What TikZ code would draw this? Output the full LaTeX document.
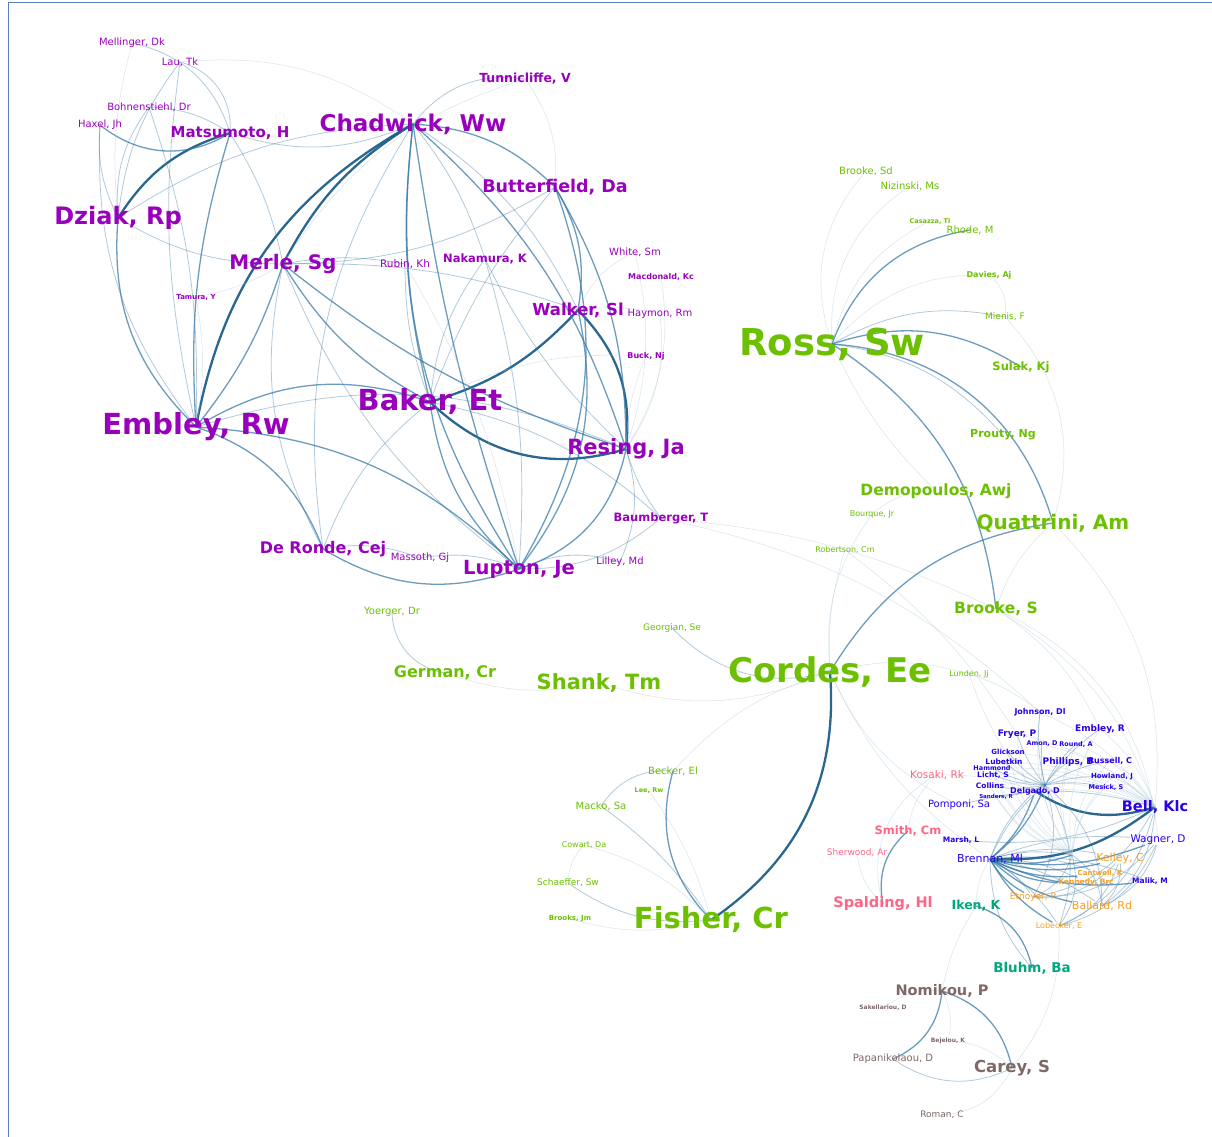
\documentclass[tikz,border=0pt]{standalone}
\usepackage{fontspec}
\setmainfont{DejaVu Sans}
\usetikzlibrary{backgrounds}

\definecolor{cPurp}{HTML}{9900BB}
\definecolor{cGrn}{HTML}{6CC000}
\definecolor{cPnk}{HTML}{FF6685}
\definecolor{cBlu}{HTML}{2A00E6}
\definecolor{cOrg}{HTML}{F5A020}
\definecolor{cTeal}{HTML}{00A87E}
\definecolor{cGry}{HTML}{806868}
\definecolor{cEdge}{HTML}{3A7CA8}
\definecolor{cEdgeDk}{HTML}{1F5F8A}
\definecolor{cFrame}{HTML}{5A80C0}

\tikzset{
  lab/.style={inner sep=0pt, text=#1},
  rg/.style={font=\fontsize{#1}{#1}\selectfont},
  bd/.style={font=\bfseries\fontsize{#1}{#1}\selectfont},
  ef/.style={draw=cEdge!40, line width=0.5pt, opacity=0.5},
  el/.style={draw=cEdge, line width=0.8pt, opacity=0.4},
  em/.style={draw=cEdge, line width=1.3pt, opacity=0.75},
  eh/.style={draw=cEdgeDk, line width=2.3pt, opacity=0.95}
}

\begin{document}
\begin{tikzpicture}[x=1pt,y=-1pt]
    \useasboundingbox (0,0) rectangle (1212,1137);

    % purple group
    \node[lab=cPurp, rg=10] (mellinger) at (132,43) {Mellinger, Dk};
    \node[lab=cPurp, rg=10] (lau) at (180,62) {Lau, Tk};
    \node[lab=cPurp, bd=12.5] (tunnicliffe) at (525,79) {Tunnicliffe, V};
    \node[lab=cPurp, rg=10] (bohnen) at (149,107) {Bohnenstiehl, Dr};
    \node[lab=cPurp, rg=10] (haxel) at (100,125) {Haxel, Jh};
    \node[lab=cPurp, bd=15] (matsumoto) at (230,133) {Matsumoto, H};
    \node[lab=cPurp, bd=23] (chadwick) at (413,124) {Chadwick, Ww};
    \node[lab=cPurp, bd=17.5] (butterfield) at (555,187) {Butterfield, Da};
    \node[lab=cPurp, bd=24] (dziak) at (118,218) {Dziak, Rp};
    \node[lab=cPurp, bd=20] (merle) at (283,264) {Merle, Sg};
    \node[lab=cPurp, rg=10.5] (rubin) at (405,264) {Rubin, Kh};
    \node[lab=cPurp, bd=11.5] (nakamura) at (485,259) {Nakamura, K};
    \node[lab=cPurp, rg=10] (white) at (635,252) {White, Sm};
    \node[lab=cPurp, bd=8] (macdonald) at (661,277) {Macdonald, Kc};
    \node[lab=cPurp, bd=7] (tamura) at (196,297) {Tamura, Y};
    \node[lab=cPurp, bd=16.5] (walker) at (578,310) {Walker, Sl};
    \node[lab=cPurp, rg=10] (haymon) at (660,314) {Haymon, Rm};
    \node[lab=cPurp, bd=8] (buck) at (646,356) {Buck, Nj};
    \node[lab=cPurp, bd=29] (baker) at (430,402) {Baker, Et};
    \node[lab=cPurp, bd=29] (embley) at (196,427) {Embley, Rw};
    \node[lab=cPurp, bd=21] (resing) at (626,449) {Resing, Ja};
    \node[lab=cPurp, bd=11.5] (baumberger) at (661,518) {Baumberger, T};
    \node[lab=cPurp, bd=16] (deronde) at (323,549) {De Ronde, Cej};
    \node[lab=cPurp, rg=10] (massoth) at (420,558) {Massoth, Gj};
    \node[lab=cPurp, bd=19.5] (lupton) at (519,569) {Lupton, Je};
    \node[lab=cPurp, rg=10] (lilley) at (620,562) {Lilley, Md};

    % green group
    \node[lab=cGrn, rg=10] (brookesd) at (866,171) {Brooke, Sd};
    \node[lab=cGrn, rg=10] (nizinski) at (910,186) {Nizinski, Ms};
    \node[lab=cGrn, bd=6.5] (casazza) at (930,221) {Casazza, Tl};
    \node[lab=cGrn, rg=10] (rhode) at (970,230) {Rhode, M};
    \node[lab=cGrn, bd=8] (davies) at (989,275) {Davies, Aj};
    \node[lab=cGrn, rg=9] (mienis) at (1005,317) {Mienis, F};
    \node[lab=cGrn, bd=37] (ross) at (832,344) {Ross, Sw};
    \node[lab=cGrn, bd=11.5] (sulak) at (1021,367) {Sulak, Kj};
    \node[lab=cGrn, bd=11] (prouty) at (1003,435) {Prouty, Ng};
    \node[lab=cGrn, bd=15.5] (demopoulos) at (936,491) {Demopoulos, Awj};
    \node[lab=cGrn, rg=8] (bourque) at (872,514) {Bourque, Jr};
    \node[lab=cGrn, bd=20] (quattrini) at (1053,523) {Quattrini, Am};
    \node[lab=cGrn, rg=8] (robertson) at (845,550) {Robertson, Cm};
    \node[lab=cGrn, rg=10] (yoerger) at (392,612) {Yoerger, Dr};
    \node[lab=cGrn, bd=15.5] (brookes) at (996,609) {Brooke, S};
    \node[lab=cGrn, rg=9] (georgian) at (672,628) {Georgian, Se};
    \node[lab=cGrn, bd=16] (german) at (445,673) {German, Cr};
    \node[lab=cGrn, bd=21] (shank) at (599,683) {Shank, Tm};
    \node[lab=cGrn, bd=34] (cordes) at (830,672) {Cordes, Ee};
    \node[lab=cGrn, rg=8] (lunden) at (969,674) {Lunden, Jj};
    \node[lab=cGrn, rg=10] (becker) at (673,771) {Becker, El};
    \node[lab=cGrn, bd=6.5] (lee) at (649,791) {Lee, Rw};
    \node[lab=cGrn, rg=10] (macko) at (601,806) {Macko, Sa};
    \node[lab=cGrn, rg=8] (cowart) at (584,845) {Cowart, Da};
    \node[lab=cGrn, rg=9] (schaeffer) at (568,883) {Schaeffer, Sw};
    \node[lab=cGrn, bd=7] (brooks) at (570,919) {Brooks, Jm};
    \node[lab=cGrn, bd=29] (fisher) at (711,920) {Fisher, Cr};

    % pink, teal, grey groups
    \node[lab=cPnk, rg=10.5] (kosaki) at (937,775) {Kosaki, Rk};
    \node[lab=cPnk, bd=11.5] (smith) at (908,831) {Smith, Cm};
    \node[lab=cPnk, rg=9] (sherwood) at (857,853) {Sherwood, Ar};
    \node[lab=cPnk, bd=14.5] (spalding) at (883,904) {Spalding, Hl};
    \node[lab=cTeal, bd=12.5] (iken) at (976,906) {Iken, K};
    \node[lab=cTeal, bd=13.5] (bluhm) at (1032,968) {Bluhm, Ba};
    \node[lab=cGry, bd=14.5] (nomikou) at (942,991) {Nomikou, P};
    \node[lab=cGry, bd=6] (sakell) at (883,1008) {Sakellariou, D};
    \node[lab=cGry, bd=6] (bejelou) at (948,1041) {Bejelou, K};
    \node[lab=cGry, rg=10] (papanik) at (893,1059) {Papanikolaou, D};
    \node[lab=cGry, bd=16.5] (carey) at (1012,1068) {Carey, S};
    \node[lab=cGry, rg=9] (roman) at (942,1115) {Roman, C};

    % blue and orange cluster
    \coordinate (core) at (1045,785);
    \coordinate (ocore) at (1072,855);
    \node[lab=cBlu, rg=10] (pomponi) at (959,805) {Pomponi, Sa};
    \node[lab=cBlu, bd=7.5] (marsh) at (961,840) {Marsh, L};
    \node[lab=cBlu, rg=11] (brennan) at (990,859) {Brennan, Ml};
    \node[lab=cBlu, bd=14.5] (bell) at (1155,807) {Bell, Klc};
    \node[lab=cBlu, rg=10.5] (wagner) at (1158,840) {Wagner, D};
    \node[lab=cBlu, bd=7.5] (malik) at (1150,881) {Malik, M};
    \node[lab=cBlu, bd=8] (johnson) at (1040,712) {Johnson, Dl};
    \node[lab=cBlu, bd=9] (embleyr) at (1100,729) {Embley, R};
    \node[lab=cBlu, bd=9] (fryer) at (1017,734) {Fryer, P};
    \node[lab=cBlu, bd=6.5] (amon) at (1042,744) {Amon, D};
    \node[lab=cBlu, bd=6.5] (round) at (1076,744) {Round, A};
    \node[lab=cBlu, bd=7] (glickson) at (1008,752) {Glickson};
    \node[lab=cBlu, bd=9] (phillips) at (1068,762) {Phillips, B};
    \node[lab=cBlu, bd=8] (russell) at (1110,761) {Russell, C};
    \node[lab=cBlu, bd=7.5] (lubetkin) at (1004,762) {Lubetkin};
    \node[lab=cBlu, bd=6.5] (hammond) at (992,768) {Hammond};
    \node[lab=cBlu, bd=7.5] (licht) at (993,775) {Licht, S};
    \node[lab=cBlu, bd=7] (howland) at (1112,777) {Howland, J};
    \node[lab=cBlu, bd=7.5] (collins) at (990,786) {Collins};
    \node[lab=cBlu, bd=6.5] (mesick) at (1106,787) {Mesick, S};
    \node[lab=cBlu, bd=8] (delgado) at (1035,791) {Delgado, D};
    \node[lab=cBlu, bd=5.5] (sanders) at (996,797) {Sanders, R};
    \node[lab=cOrg, rg=11] (kelley) at (1120,858) {Kelley, C};
    \node[lab=cOrg, bd=7] (cantwell) at (1100,873) {Cantwell, K};
    \node[lab=cOrg, bd=7.5] (kennedy) at (1086,882) {Kennedy, Brc};
    \node[lab=cOrg, rg=9] (etnoyer) at (1033,897) {Etnoyer, P};
    \node[lab=cOrg, rg=11] (ballard) at (1102,906) {Ballard, Rd};
    \node[lab=cOrg, rg=8] (lobecker) at (1059,926) {Lobecker, E};

    \begin{scope}[on background layer]
    \fill[white] (0,0) rectangle (1212,1137);
    \draw[cFrame, line width=1pt] (8,1137) -- (8,3) -- (1212,3);
    % connectors, bend > 0 right, < 0 left
    \foreach \a/\b/\s/\c in {
        embley/chadwick/eh/-25, merle/chadwick/eh/-15, merle/embley/em/-10,
        baker/resing/eh/30, baker/walker/eh/15, walker/resing/eh/-25,
        embley/baker/em/-25, embley/resing/el/-20, embley/lupton/em/-20,
        embley/deronde/em/-25, embley/dziak/em/-25, dziak/matsumoto/eh/-20,
        dziak/chadwick/el/-15, dziak/merle/el/15, haxel/matsumoto/em/35,
        haxel/embley/el/20, haxel/dziak/el/15, lau/matsumoto/el/-40,
        lau/embley/el/10, lau/dziak/el/15, lau/chadwick/ef/-20,
        mellinger/dziak/ef/10, mellinger/matsumoto/el/-30,
        bohnen/embley/el/-10, bohnen/dziak/el/20, bohnen/matsumoto/el/-15,
        matsumoto/embley/em/10, matsumoto/chadwick/el/20, matsumoto/merle/el/-10,
        tunnicliffe/chadwick/el/30, tunnicliffe/butterfield/ef/-20, tunnicliffe/merle/ef/20,
        chadwick/lupton/em/20, chadwick/lupton/em/5, chadwick/resing/em/-15,
        chadwick/baker/em/10, chadwick/butterfield/em/-20, chadwick/walker/el/-15,
        chadwick/deronde/el/20, chadwick/nakamura/el/-10,
        butterfield/resing/em/-15, butterfield/lupton/em/-25, butterfield/baker/el/10,
        butterfield/walker/em/-20, butterfield/merle/el/-15,
        merle/resing/em/10, merle/baker/em/15, merle/lupton/el/15, merle/walker/el/-10,
        merle/deronde/el/20, merle/rubin/el/-10,
        baker/lupton/em/20, baker/deronde/el/15, resing/lupton/em/-30,
        resing/baumberger/el/10, resing/lilley/el/-20, lupton/lilley/el/-20,
        lupton/massoth/el/15, deronde/lupton/em/25, deronde/massoth/el/-15,
        lupton/walker/em/25, rubin/baker/el/10, rubin/lupton/ef/-10,
        nakamura/resing/el/10, nakamura/lupton/el/-10, nakamura/baker/el/15,
        white/walker/ef/20, white/resing/ef/-15, macdonald/resing/ef/-20,
        haymon/walker/ef/10, haymon/resing/ef/-20, buck/resing/ef/10, buck/baker/ef/15,
        tamura/embley/ef/-10, tamura/merle/ef/10,
        baumberger/lupton/el/-20, baumberger/baker/el/15,
        baumberger/brookes/ef/-10, baumberger/johnson/ef/-15,
        ross/brookesd/ef/-30, ross/nizinski/ef/-30, ross/casazza/ef/-25,
        ross/rhode/em/-30, ross/davies/ef/-25, ross/mienis/el/-20,
        ross/sulak/em/-25, ross/quattrini/em/-35, ross/brookes/em/-25,
        ross/prouty/el/-20, ross/demopoulos/ef/10,
        davies/mienis/ef/-30, mienis/quattrini/ef/-30,
        cordes/fisher/eh/-30, cordes/quattrini/em/-25, georgian/cordes/el/30,
        shank/cordes/ef/20, german/shank/ef/15, yoerger/german/el/40,
        becker/fisher/em/30, macko/fisher/el/-10, macko/becker/el/-30,
        schaeffer/fisher/el/20, cowart/schaeffer/ef/20, cowart/fisher/ef/-15,
        brooks/fisher/ef/15, lee/fisher/ef/-10, becker/cordes/ef/-15,
        lunden/cordes/ef/15, bourque/demopoulos/ef/-20, bourque/cordes/ef/20,
        robertson/cordes/ef/10, brookes/quattrini/ef/-15,
        smith/spalding/em/30, kosaki/spalding/ef/40, sherwood/spalding/ef/20,
        smith/kosaki/ef/-20, iken/bluhm/em/-30, bluhm/brennan/el/-20,
        iken/brennan/ef/-15, nomikou/carey/em/-30, nomikou/papanik/em/-30,
        papanik/carey/el/30, sakell/nomikou/ef/-20, bejelou/nomikou/ef/20,
        bejelou/carey/ef/-20, roman/carey/ef/30, nomikou/iken/ef/-10,
        carey/lobecker/ef/20,
        delgado/bell/eh/25, brennan/bell/eh/20, pomponi/bell/el/-15,
        brookes/bell/ef/-20, brookes/wagner/ef/-30, lunden/johnson/ef/-10,
        cordes/pomponi/ef/20, cordes/brennan/ef/15, robertson/fryer/ef/-10,
        kosaki/delgado/ef/-10, quattrini/bell/ef/-25, brookes/embleyr/ef/-15,
        lunden/delgado/ef/10, marsh/bell/el/15}
        \draw[\s] (\a.center) to[bend right=\c] (\b.center);

    \foreach \x in {kelley, kennedy, cantwell, ballard, lobecker, etnoyer,
        wagner, malik, ocore, delgado, core}
        {\draw[em] (brennan.center) to[bend right=15] (\x);
         \draw[el] (brennan.center) to[bend left=12] (\x);}
    \foreach \x in {lobecker, etnoyer, ballard}
        \foreach \y in {bell, kelley, core, ocore, wagner}
            \draw[el] (\x.center) to[bend right=25] (\y);
    \foreach \x in {johnson, embleyr, fryer, amon, round, glickson, phillips,
        russell, lubetkin, hammond, licht, howland, collins, mesick, sanders}
        {\draw[ef] (\x.center) to[bend right=20] (ocore);
         \draw[ef] (\x.center) to[bend left=15] (bell.center);
         \draw[el] (\x.center) to[bend right=10] (core);}
    \end{scope}
\end{tikzpicture}
\end{document}
